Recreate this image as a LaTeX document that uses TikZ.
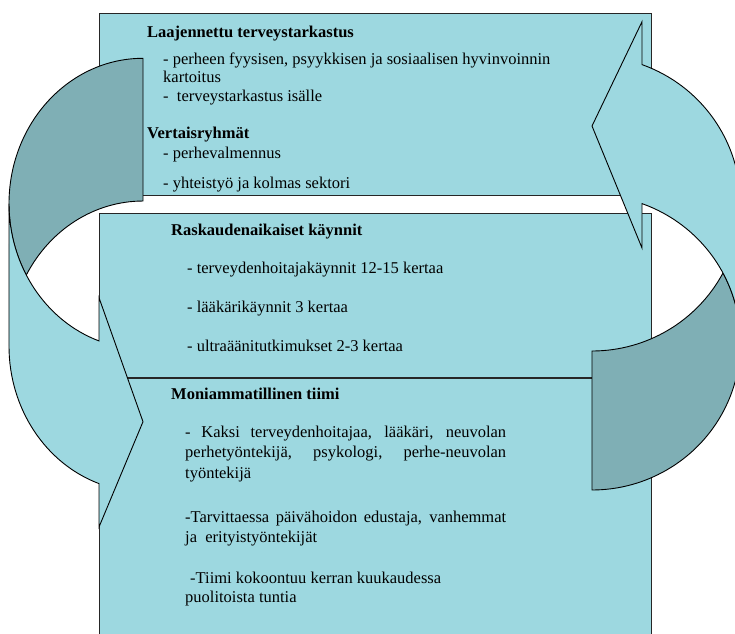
\documentclass[tikz,border=0pt]{standalone}
\usepackage{fontspec}
\setmainfont{Liberation Serif}
\definecolor{vaalea}{RGB}{157,216,224}
\definecolor{tumma}{RGB}{127,175,181}

\begin{document}
\begin{tikzpicture}[x=1pt, y=-1pt,
    laatikko/.style={draw=black!85, line width=1pt, fill=vaalea, inner sep=0pt, anchor=north west},
    nuoli/.style={draw=black, line width=0.9pt, fill=vaalea},
    takaosa/.style={nuoli, fill=tumma},
    rivi/.style={anchor=base west, inner sep=0pt, font=\fontsize{16.5}{21}\selectfont},
    otsikko/.style={rivi, font=\fontsize{16.5}{21}\selectfont\bfseries}]
  \useasboundingbox (0,0) rectangle (735,633);
  \clip (0,0) rectangle (735,633);

  % laatikot
  \node[laatikko, minimum width=552pt, minimum height=182.3pt] (yla) at (99,12.7) {};
  \node[laatikko, minimum width=552pt, minimum height=440pt] (ala) at (99,213) {};
  \draw[draw=black!85, line width=1.2pt] (ala.west |- 0,378) -- (ala.east |- 0,378);

  % vasen nuoli
  \draw[takaosa] (143,58.3) arc[start angle=270, end angle=150.63, x radius=134, y radius=145.5]
    arc[start angle=209.37, end angle=270, x radius=134, y radius=145.5] -- cycle;
  \draw[nuoli] (9,203.5) arc[start angle=180, end angle=109.17, x radius=134, y radius=145.5]
    -- (99,297.7) -- (143,421.7) -- (99,527) -- (99,483.6)
    arc[start angle=109.17, end angle=180, x radius=134, y radius=145.5] -- cycle;

  % oikea nuoli
  \draw[takaosa] (592,351) arc[start angle=90, end angle=28.11, x radius=148.5, y radius=147.5]
    arc[start angle=-28.11, end angle=90, x radius=148.5, y radius=147.5] -- cycle;
  \draw[nuoli] (592,126) -- (642,21.7) -- (642,64.6)
    arc[start angle=-70.32, end angle=0, x radius=148.5, y radius=147.5]
    -- ++(0,139)
    arc[start angle=0, end angle=-70.32, x radius=148.5, y radius=147.5]
    -- (642,248) -- cycle;

  % ylälaatikon teksti
  \node[otsikko] (laaj) at (147,37) {Laajennettu terveystarkastus};
  \node[rivi] (perheen) at (163,64.5) {- perheen fyysisen, psyykkisen ja sosiaalisen hyvinvoinnin};
  \node[rivi] (kartoitus) at (163,82) {kartoitus};
  \node[rivi] (isalle) at (163,101) {-\ \ terveystarkastus isälle};
  \node[otsikko] (vertais) at (147,138.5) {Vertaisryhmät};
  \node[rivi] (valmennus) at (163,158.5) {- perhevalmennus};
  \node[rivi] (sektori) at (163,188.5) {- yhteistyö ja kolmas sektori};

  % raskaudenaikaiset käynnit
  \node[otsikko] (raskaus) at (171,235) {Raskaudenaikaiset käynnit};
  \node[rivi] (thkaynnit) at (187,273.5) {- terveydenhoitajakäynnit 12-15 kertaa};
  \node[rivi] (laakari) at (187,312.5) {- lääkärikäynnit 3 kertaa};
  \node[rivi] (ultra) at (187,351.5) {- ultraäänitutkimukset 2-3 kertaa};

  % moniammatillinen tiimi
  \node[otsikko] (tiimi) at (171,399.5) {Moniammatillinen tiimi};
  \node[rivi] (kaksi) at (185,437.5) {\makebox[321pt][s]{- Kaksi terveydenhoitajaa, lääkäri, neuvolan}};
  \node[rivi] (perhetyo) at (185,457.5) {\makebox[321pt][s]{perhetyöntekijä, psykologi, perhe-neuvolan}};
  \node[rivi] (tyontekija) at (185,478.5) {työntekijä};
  \node[rivi] (tarvittaessa) at (185,522) {\makebox[321pt][s]{-Tarvittaessa päivähoidon edustaja, vanhemmat}};
  \node[rivi] (erityis) at (185,542) {ja\ \ erityistyöntekijät};
  \node[rivi] (kokoontuu) at (190,583) {-Tiimi kokoontuu kerran kuukaudessa};
  \node[rivi] (tuntia) at (185,602) {puolitoista tuntia};
\end{tikzpicture}
\end{document}
